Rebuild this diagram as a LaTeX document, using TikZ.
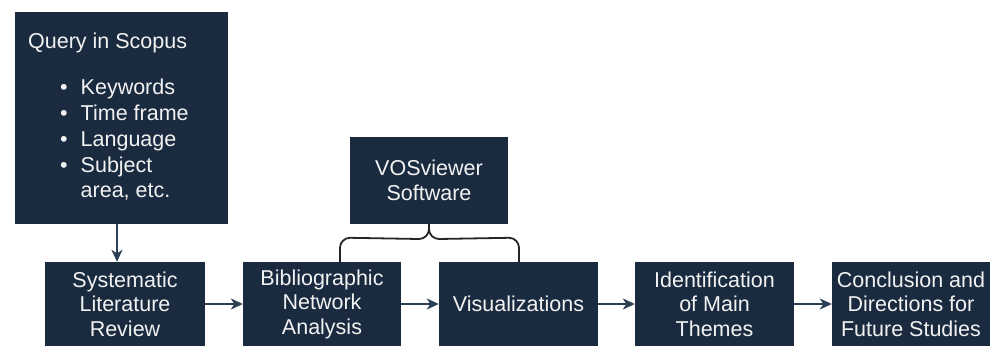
\documentclass[tikz,border=0pt]{standalone}
\usepackage{fontspec}
\setmainfont{Liberation Sans}
\usetikzlibrary{arrows.meta}
\definecolor{boxnavy}{HTML}{1A2B40}
\definecolor{arrnavy}{HTML}{2C4055}
\definecolor{txtw}{HTML}{F2F2F2}
\begin{document}
\begin{tikzpicture}[x=1pt,y=1pt,
  box/.style={fill=boxnavy,draw=none,text=txtw,align=center,inner sep=0pt,
    font=\fontsize{21.5}{24.5}\selectfont},
  arr/.style={draw=arrnavy,line width=1.7pt,-{Stealth[length=12pt,width=11pt,inset=3.5pt]}},
  brace/.style={draw=black!85,line width=1.8pt}]
\useasboundingbox (0,0) rectangle (992,346);
% query box
\node[box,minimum width=213,minimum height=212] (q) at (121.5,228) {};
\node[text=txtw,anchor=west,inner sep=0pt,font=\fontsize{21.5}{24.5}\selectfont] (qt) at (28,303) {Query in Scopus};
\node[text=txtw,anchor=north west,inner sep=0pt,align=left,font=\fontsize{21.5}{25.5}\selectfont] (ql) at (60,270)
  {\begin{tabular}{@{}l@{\hspace{13pt}}l@{}}
   \textbullet & Keywords\\[0.5pt]
   \textbullet & Time frame\\[1pt]
   \textbullet & Language\\[0pt]
   \textbullet & Subject\\
   & area, etc.
  \end{tabular}};
% VOSviewer
\node[box,minimum width=158,minimum height=87] (v) at (429,165.5) {VOSviewer\\Software};
% bottom row
\node[box,minimum width=160,minimum height=84] (s) at (125,42) {Systematic\\Literature\\Review};
\node[box,minimum width=158,minimum height=84] (b) at (322,42) {Bibliographic\\Network\\Analysis};
\node[box,minimum width=159,minimum height=84] (vi) at (518.5,42) {Visualizations};
\node[box,minimum width=159,minimum height=84] (i) at (714.5,42) {Identification\\of Main\\Themes};
\node[box,minimum width=158,minimum height=84] (c) at (911,42) {Conclusion and\\Directions for\\Future Studies};
% arrows
\draw[arr] ([xshift=-4.5pt]q.south) -- ([xshift=-4.5pt]q.south |- s.north);
\draw[arr] (s.east) -- (b.west);
\draw[arr] (b.east) -- (vi.west);
\draw[arr] (vi.east) -- (i.west);
\draw[arr] (i.east) -- (c.west);
% brace
\coordinate (bl) at ([xshift=18pt]b.north);
\coordinate (br) at ([xshift=0.5pt]vi.north);
\draw[brace] (bl) -- ++(0,14) arc[start angle=180,end angle=90,radius=10]
  -- ([xshift=-10pt]v.south |- 0,107) arc[start angle=270,end angle=360,radius=10] -- (v.south);
\draw[brace] (br) -- ++(0,14) arc[start angle=0,end angle=90,radius=10]
  -- ([xshift=10pt]v.south |- 0,107) arc[start angle=270,end angle=180,radius=10];
\end{tikzpicture}
\end{document}
